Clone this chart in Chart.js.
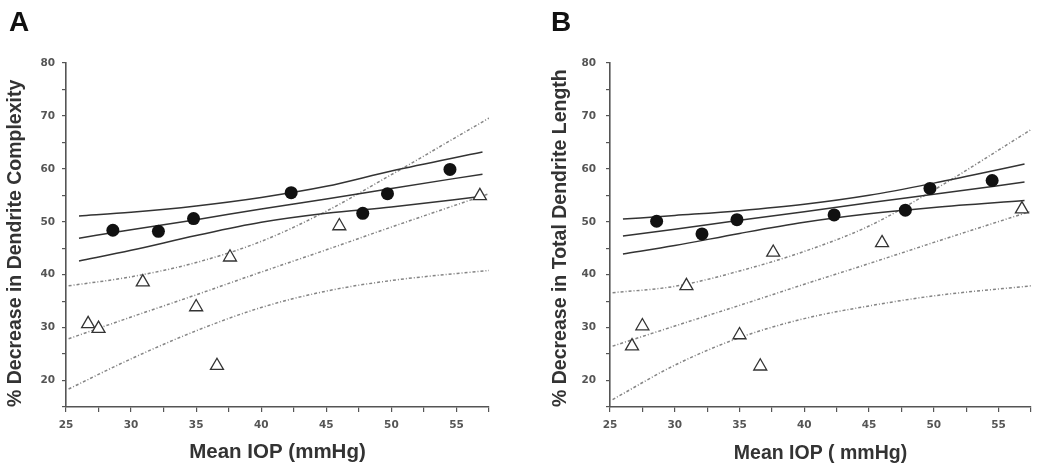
<!DOCTYPE html>
<html>
<head>
<meta charset="utf-8">
<title>Mean IOP vs % decrease in dendrites</title>
<script src="https://cdn.jsdelivr.net/npm/chart.js@4.4.1/dist/chart.umd.min.js"></script>
<style>
  html, body { margin: 0; padding: 0; background: #fff; }
  #wrap { position: relative; width: 1050px; height: 473px; overflow: hidden; }
  .panel { position: absolute; top: 0; height: 473px; }
  .panel canvas { display: block; }
  #panelA { left: 0; width: 520px; }
  #panelB { left: 520px; width: 530px; }
  .letter { position: absolute; font: bold 28px "Liberation Sans", Arial, sans-serif; line-height: 28px; color: #111; }
</style>
</head>
<body>
<div id="wrap">
  <div class="panel" id="panelA"><canvas id="chartA" width="520" height="473"></canvas></div>
  <div class="panel" id="panelB"><canvas id="chartB" width="530" height="473"></canvas></div>
  <div class="letter" style="left:9px;top:8px">A</div>
  <div class="letter" style="left:551px;top:8px">B</div>
</div>
<script>
/* ------------------------------------------------------------
   Data
   ------------------------------------------------------------ */
// mean IOP of each eye, same for both panels
const iopFilled = [28.6, 32.1, 34.8, 42.3, 47.8, 49.7, 54.5];
const iopOpen   = [26.7, 27.5, 30.9, 35.0, 36.6, 37.6, 46.0, 56.8];

// panel A - % decrease in dendrite complexity
const complexityFilled = [48.4, 48.2, 50.6, 55.5, 51.6, 55.3, 59.9];
const complexityOpen   = [30.7, 29.8, 38.6, 33.9, 22.8, 43.3, 49.2, 54.9];

// panel B - % decrease in total dendrite length
const lengthFilled = [50.1, 47.7, 50.4, 51.3, 52.2, 56.3, 57.8];
const lengthOpen   = [26.5, 30.3, 37.9, 28.6, 22.7, 44.2, 46.0, 52.4];

// regression lines and confidence bands, sampled along IOP
const fitIopSolid  = [26, 30, 35, 40, 45, 50, 57];
const fitIopDotted = [25.2, 30, 35, 40, 45, 50, 57.5];

const complexityFitUpper  = [51.1, 51.8, 53.0, 54.6, 56.7, 59.6, 63.2];
const complexityFit       = [46.9, 48.5, 50.4, 52.4, 54.3, 56.3, 59.0];
const complexityFitLower  = [42.6, 44.6, 47.4, 49.9, 51.6, 52.8, 54.8];
const complexityOpenUpper = [37.9, 39.6, 42.3, 46.3, 52.0, 58.9, 69.6];
const complexityOpenFit   = [27.9, 32.0, 36.2, 40.5, 44.7, 49.0, 55.3];
const complexityOpenLower = [18.4, 24.1, 29.4, 33.8, 36.9, 38.9, 40.8];

const lengthFitUpper  = [50.5, 51.2, 52.1, 53.3, 55.0, 57.3, 60.9];
const lengthFit       = [47.3, 48.6, 50.3, 51.9, 53.6, 55.2, 57.5];
const lengthFitLower  = [43.9, 45.5, 47.8, 49.9, 51.5, 52.7, 54.0];
const lengthOpenUpper = [36.6, 37.8, 40.7, 44.4, 49.2, 56.0, 67.4];
const lengthOpenFit   = [26.5, 30.3, 34.2, 38.2, 42.1, 46.1, 52.0];
const lengthOpenLower = [16.4, 22.9, 28.1, 31.7, 34.1, 36.0, 37.9];

// tick labels
const xTickLabels = [25, 30, 35, 40, 45, 50, 55];
const yTickLabels = [20, 30, 40, 50, 60, 70, 80];

/* ------------------------------------------------------------
   Helpers
   ------------------------------------------------------------ */
const pts = (xs, ys) => xs.map((x, i) => ({ x, y: ys[i] }));

function lineSet(xs, ys, dotted) {
  return {
    data: pts(xs, ys),
    showLine: true,
    pointRadius: 0,
    borderColor: dotted ? '#858585' : '#333',
    borderWidth: 1.5,
    borderDash: dotted ? [3, 2, 1, 2] : [],
    cubicInterpolationMode: 'monotone',
    fill: false,
  };
}

const tickFont = { family: '"DejaVu Sans", sans-serif', weight: 'bold', size: 10.5 };
const titleFamily = '"Liberation Sans", Arial, sans-serif';

function makePanel(id, p) {
  return new Chart(document.getElementById(id), {
    type: 'scatter',
    data: {
      datasets: [
        {
          data: pts(iopFilled, p.filled),
          pointStyle: 'circle', pointRadius: 6.5,
          backgroundColor: '#111', borderColor: '#111', borderWidth: 0,
        },
        {
          data: pts(iopOpen, p.open),
          pointStyle: 'triangle', pointRadius: 7.5,
          backgroundColor: '#fff', borderColor: '#333', borderWidth: 1.3,
        },
        lineSet(fitIopSolid, p.solid[0], false),
        lineSet(fitIopSolid, p.solid[1], false),
        lineSet(fitIopSolid, p.solid[2], false),
        lineSet(fitIopDotted, p.dotted[0], true),
        lineSet(fitIopDotted, p.dotted[1], true),
        lineSet(fitIopDotted, p.dotted[2], true),
      ],
    },
    options: {
      responsive: false,
      animation: false,
      layout: { padding: { top: 63, right: p.rightPad, bottom: 0, left: 0 } },
      plugins: { legend: { display: false }, tooltip: { enabled: false } },
      scales: {
        x: {
          type: 'linear', min: 25, max: 57.5,
          ticks: {
            stepSize: 2.5, autoSkip: false, maxRotation: 0, padding: 7,
            color: '#555', font: tickFont,
            callback: v => xTickLabels.includes(v) ? v : '',
          },
          grid: { drawOnChartArea: false, drawTicks: true, tickLength: 5, color: '#555', lineWidth: 1.2 },
          border: { display: true, color: '#555', width: 1.6 },
          title: {
            display: true, text: p.xTitle, color: '#333',
            font: { family: titleFamily, weight: 'bold', size: p.xTitleSize },
            padding: { top: 0, bottom: 8 },
          },
          afterFit: s => { s.height = 66; },
        },
        y: {
          type: 'linear', min: 15, max: 80,
          ticks: {
            stepSize: 5, autoSkip: false, padding: p.yTickPad,
            color: '#555', font: tickFont,
            callback: v => yTickLabels.includes(v) ? v : '',
          },
          grid: { drawOnChartArea: false, drawTicks: true, tickLength: 4, color: '#555', lineWidth: 1.2 },
          border: { display: true, color: '#555', width: 1.6 },
          title: {
            display: true, text: p.yTitle, color: '#333', align: 'start',
            font: { family: titleFamily, weight: 'bold', size: 19.5 },
            padding: { top: p.yTitlePad, bottom: 0 },
          },
          afterFit: s => { s.width = p.axisLeft; },
        },
      },
    },
  });
}

/* ------------------------------------------------------------
   Panels
   ------------------------------------------------------------ */
makePanel('chartA', {
  filled: complexityFilled,
  open: complexityOpen,
  solid: [complexityFitUpper, complexityFit, complexityFitLower],
  dotted: [complexityOpenUpper, complexityOpenFit, complexityOpenLower],
  yTitle: '% Decrease in Dendrite Complexity',
  xTitle: 'Mean IOP (mmHg)',
  xTitleSize: 20.5,
  axisLeft: 66, rightPad: 31, yTitlePad: 4, yTickPad: 7,
});

makePanel('chartB', {
  filled: lengthFilled,
  open: lengthOpen,
  solid: [lengthFitUpper, lengthFit, lengthFitLower],
  dotted: [lengthOpenUpper, lengthOpenFit, lengthOpenLower],
  yTitle: '% Decrease in Total Dendrite Length',
  xTitle: 'Mean IOP ( mmHg)',
  xTitleSize: 19.5,
  axisLeft: 90, rightPad: 19, yTitlePad: 29, yTickPad: 10,
});
</script>
</body>
</html>
